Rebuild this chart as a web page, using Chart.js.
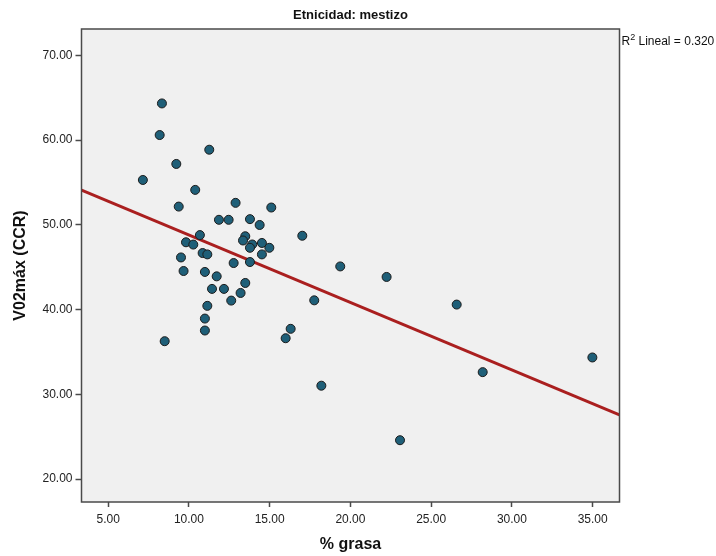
<!DOCTYPE html>
<html>
<head>
<meta charset="utf-8">
<script src="https://cdn.jsdelivr.net/npm/chart.js@4.4.1/dist/chart.umd.min.js"></script>
<style>
  html, body { margin: 0; padding: 0; background: #fff; }
  #wrap { width: 716px; height: 556px; }
</style>
</head>
<body>
<div id="wrap"><canvas id="chart" width="716" height="556"></canvas></div>
<script>
// % grasa (x) y V02máx (y)
const grasa = [
  8.33, 8.19, 11.26, 9.22, 7.15, 10.39, 9.37, 12.89, 15.10, 11.86,
  12.46, 13.78, 14.38, 17.02, 10.68, 9.82, 10.27, 13.49, 13.35, 13.92,
  13.78, 14.52, 14.98, 10.85, 11.14, 14.52, 12.77, 13.78, 9.51, 9.67,
  10.99, 11.72, 13.49, 11.43, 12.17, 13.20, 12.62, 11.14, 10.99, 10.99,
  8.50, 16.30, 15.99, 17.76, 19.37, 22.24, 26.58, 18.20, 28.19, 34.98,
  23.07
];
const vo2max = [
  64.32, 60.59, 58.86, 57.18, 55.29, 54.12, 52.15, 52.59, 52.04, 50.59,
  50.59, 50.67, 49.98, 48.71, 48.79, 47.94, 47.67, 48.65, 48.15, 47.68,
  47.29, 47.86, 47.29, 46.67, 46.51, 46.51, 45.49, 45.61, 46.15, 44.55,
  44.44, 43.92, 43.14, 42.44, 42.44, 41.96, 41.06, 40.44, 38.94, 37.53,
  36.27, 37.73, 36.62, 41.09, 45.09, 43.85, 40.59, 31.02, 32.62, 34.35,
  24.59
];
const xTicks = [5, 10, 15, 20, 25, 30, 35];
const yTicks = [20, 30, 40, 50, 60, 70];
const xRange = [3.35, 36.66];
const yRange = [17.3, 73.1];
const chartTitle = "Etnicidad: mestizo";
const r2Label = "0.320";

// recta de mínimos cuadrados
function fitLine(xs, ys){
  const n = xs.length;
  const mx = xs.reduce((a, b) => a + b, 0) / n;
  const my = ys.reduce((a, b) => a + b, 0) / n;
  let sxy = 0, sxx = 0;
  for(let i = 0; i < n; i++){
    sxy += (xs[i] - mx) * (ys[i] - my);
    sxx += (xs[i] - mx) * (xs[i] - mx);
  }
  const b = sxy / sxx;
  return { a: my - b * mx, b };
}
const fit = fitLine(grasa, vo2max);
const linePts = xRange.map(x => ({ x, y: fit.a + fit.b * x }));

const points = grasa.map((x, i) => ({ x, y: vo2max[i] }));

const FONT = "'Liberation Sans', Arial, sans-serif";

const plotFrame = {
  id: "plotFrame",
  beforeDraw(chart){
    const { ctx, chartArea: a } = chart;
    ctx.save();
    ctx.fillStyle = "#f0f0f0";
    ctx.fillRect(a.left, a.top, a.right - a.left, a.bottom - a.top);
    ctx.restore();
  },
  afterDraw(chart){
    const { ctx, chartArea: a } = chart;
    ctx.save();
    ctx.strokeStyle = "#4a4a4a";
    ctx.lineWidth = 1.5;
    ctx.strokeRect(a.left, a.top, a.right - a.left, a.bottom - a.top);

    // título centrado sobre el área del gráfico
    ctx.fillStyle = "#111";
    ctx.font = "bold 13px " + FONT;
    ctx.textAlign = "center";
    ctx.textBaseline = "middle";
    ctx.fillText(chartTitle, (a.left + a.right) / 2, 15.5);

    // etiqueta R2
    const x0 = a.right + 2;
    const y0 = a.top + 16;
    ctx.textAlign = "left";
    ctx.textBaseline = "alphabetic";
    ctx.font = "12px " + FONT;
    ctx.fillText("R", x0, y0);
    let w = ctx.measureText("R").width;
    ctx.font = "9px " + FONT;
    ctx.fillText("2", x0 + w, y0 - 5);
    w += ctx.measureText("2").width;
    ctx.font = "12px " + FONT;
    ctx.fillText(" Lineal = " + r2Label, x0 + w, y0);
    ctx.restore();
  }
};

new Chart(document.getElementById("chart"), {
  type: "scatter",
  data: {
    datasets: [{
      label: "Ajuste",
      type: "line",
      data: linePts,
      borderColor: "#aa1f1f",
      borderWidth: 3,
      pointRadius: 0,
      fill: false,
      order: 2
    }, {
      label: "V02máx",
      data: points,
      backgroundColor: "#1f5f78",
      borderColor: "#1c1c1c",
      borderWidth: 1,
      pointRadius: 4.5,
      order: 1
    }]
  },
  options: {
    responsive: false,
    animation: false,
    layout: { padding: { left: 0, right: 96.5, top: 29, bottom: 0 } },
    plugins: {
      legend: { display: false },
      tooltip: { enabled: false },
      title: { display: false }
    },
    scales: {
      x: {
        type: "linear",
        min: xRange[0],
        max: xRange[1],
        afterBuildTicks: (s) => { s.ticks = xTicks.map(v => ({ value: v })); },
        afterFit: (s) => { s.height = 54; },
        ticks: {
          color: "#222",
          font: { family: FONT, size: 12 },
          padding: 5,
          maxRotation: 0,
          callback: (v) => Number(v).toFixed(2)
        },
        grid: { drawOnChartArea: false, tickLength: 5, color: "#4a4a4a", tickWidth: 1.5 },
        border: { display: false },
        title: {
          display: true,
          text: "% grasa",
          color: "#111",
          font: { family: FONT, size: 16, weight: "bold" },
          padding: { top: 0, bottom: 2 }
        }
      },
      y: {
        type: "linear",
        min: yRange[0],
        max: yRange[1],
        afterBuildTicks: (s) => { s.ticks = yTicks.map(v => ({ value: v })); },
        afterFit: (s) => { s.width = 81.5; },
        ticks: {
          color: "#222",
          font: { family: FONT, size: 12 },
          padding: 3,
          callback: (v) => Number(v).toFixed(2)
        },
        grid: { drawOnChartArea: false, tickLength: 6, color: "#4a4a4a", tickWidth: 1.5 },
        border: { display: false },
        title: {
          display: true,
          text: "V02máx (CCR)",
          color: "#111",
          font: { family: FONT, size: 16, weight: "bold" },
          padding: { top: 11, bottom: 0 }
        }
      }
    }
  },
  plugins: [plotFrame]
});
</script>
</body>
</html>
